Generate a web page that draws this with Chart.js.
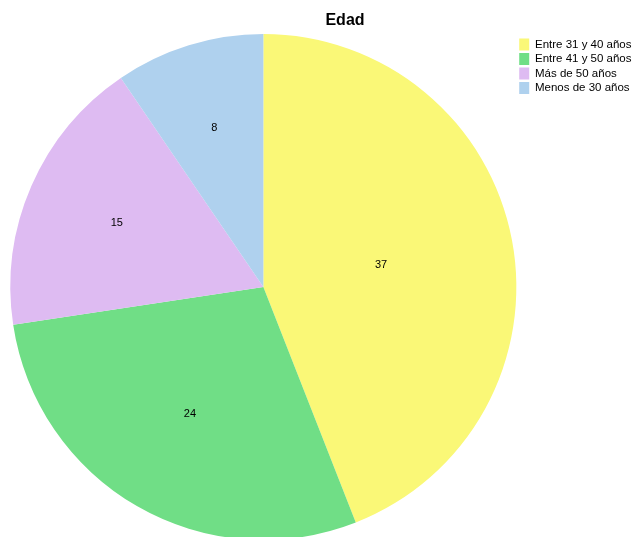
<!DOCTYPE html>
<html>
<head>
<meta charset="utf-8">
<script src="https://cdn.jsdelivr.net/npm/chart.js@4"></script>
<style>
  html, body { margin: 0; padding: 0; background: #fff; overflow: hidden; }
  #wrap { width: 635px; height: 537px; overflow: hidden; position: relative; }
  #box { width: 635px; height: 560px; position: absolute; left: 0; top: 0; }
</style>
</head>
<body>
<div id="wrap"><div id="box"><canvas id="pieChart"></canvas></div></div>
<script>
const chartTitle = "Edad";
const categories = ["Entre 31 y 40 años", "Entre 41 y 50 años", "Más de 50 años", "Menos de 30 años"];
const counts = [37, 24, 15, 8];
const sliceColors = ["#FAF877", "#70DE86", "#DEBBF2", "#AFD1EE"];

// numbers inside each slice, placed at the sector centroid
const sliceLabels = {
    id: "sliceLabels",
    afterDatasetsDraw(chart) {
        const ctx = chart.ctx;
        ctx.save();
        ctx.font = "11px 'Liberation Sans', Arial, sans-serif";
        ctx.fillStyle = "#000";
        ctx.textAlign = "center";
        ctx.textBaseline = "middle";
        chart.getDatasetMeta(0).data.forEach((arc, i) => {
            const p = arc.getProps(["x", "y", "startAngle", "endAngle", "outerRadius"], true);
            const half = (p.endAngle - p.startAngle) / 2;
            const mid = p.startAngle + half;
            const d = (2 / 3) * p.outerRadius * Math.sin(half) / half;
            ctx.fillText(String(counts[i]), p.x + Math.cos(mid) * d, p.y + Math.sin(mid) * d);
        });
        ctx.restore();
    }
};

// title sits a bit right of centre in the original
const titleText = {
    id: "titleText",
    afterDraw(chart) {
        const ctx = chart.ctx;
        ctx.save();
        ctx.font = "bold 16px 'Liberation Sans', Arial, sans-serif";
        ctx.fillStyle = "#000";
        ctx.textAlign = "center";
        ctx.textBaseline = "middle";
        ctx.fillText(chartTitle, 345, 21);
        ctx.restore();
    }
};

document.addEventListener("DOMContentLoaded", () => {

    const pieCtx = document.getElementById("pieChart");

    new Chart(pieCtx, {
        type: "pie",
        data: {
            labels: categories,
            datasets: [{
                data: counts,
                backgroundColor: sliceColors,
                borderWidth: 0
            }]
        },
        options: {
            responsive: true,
            maintainAspectRatio: false,
            animation: false,
            layout: { padding: { left: 10, top: 34, right: -6.5, bottom: 20 } },
            plugins: {
                legend: {
                    position: "right",
                    align: "start",
                    // empty legend title, only used to push the items down a little
                    title: { display: true, text: " ", font: { size: 2, lineHeight: 1 }, padding: 0 },
                    labels: {
                        boxWidth: 10,
                        boxHeight: 12,
                        padding: 2.5,
                        color: "#000",
                        font: { size: 11.5, family: "'Liberation Sans', Arial, sans-serif" }
                    }
                },
                title: { display: false },
                tooltip: { enabled: false }
            }
        },
        plugins: [sliceLabels, titleText]
    });

});
</script>
</body>
</html>
